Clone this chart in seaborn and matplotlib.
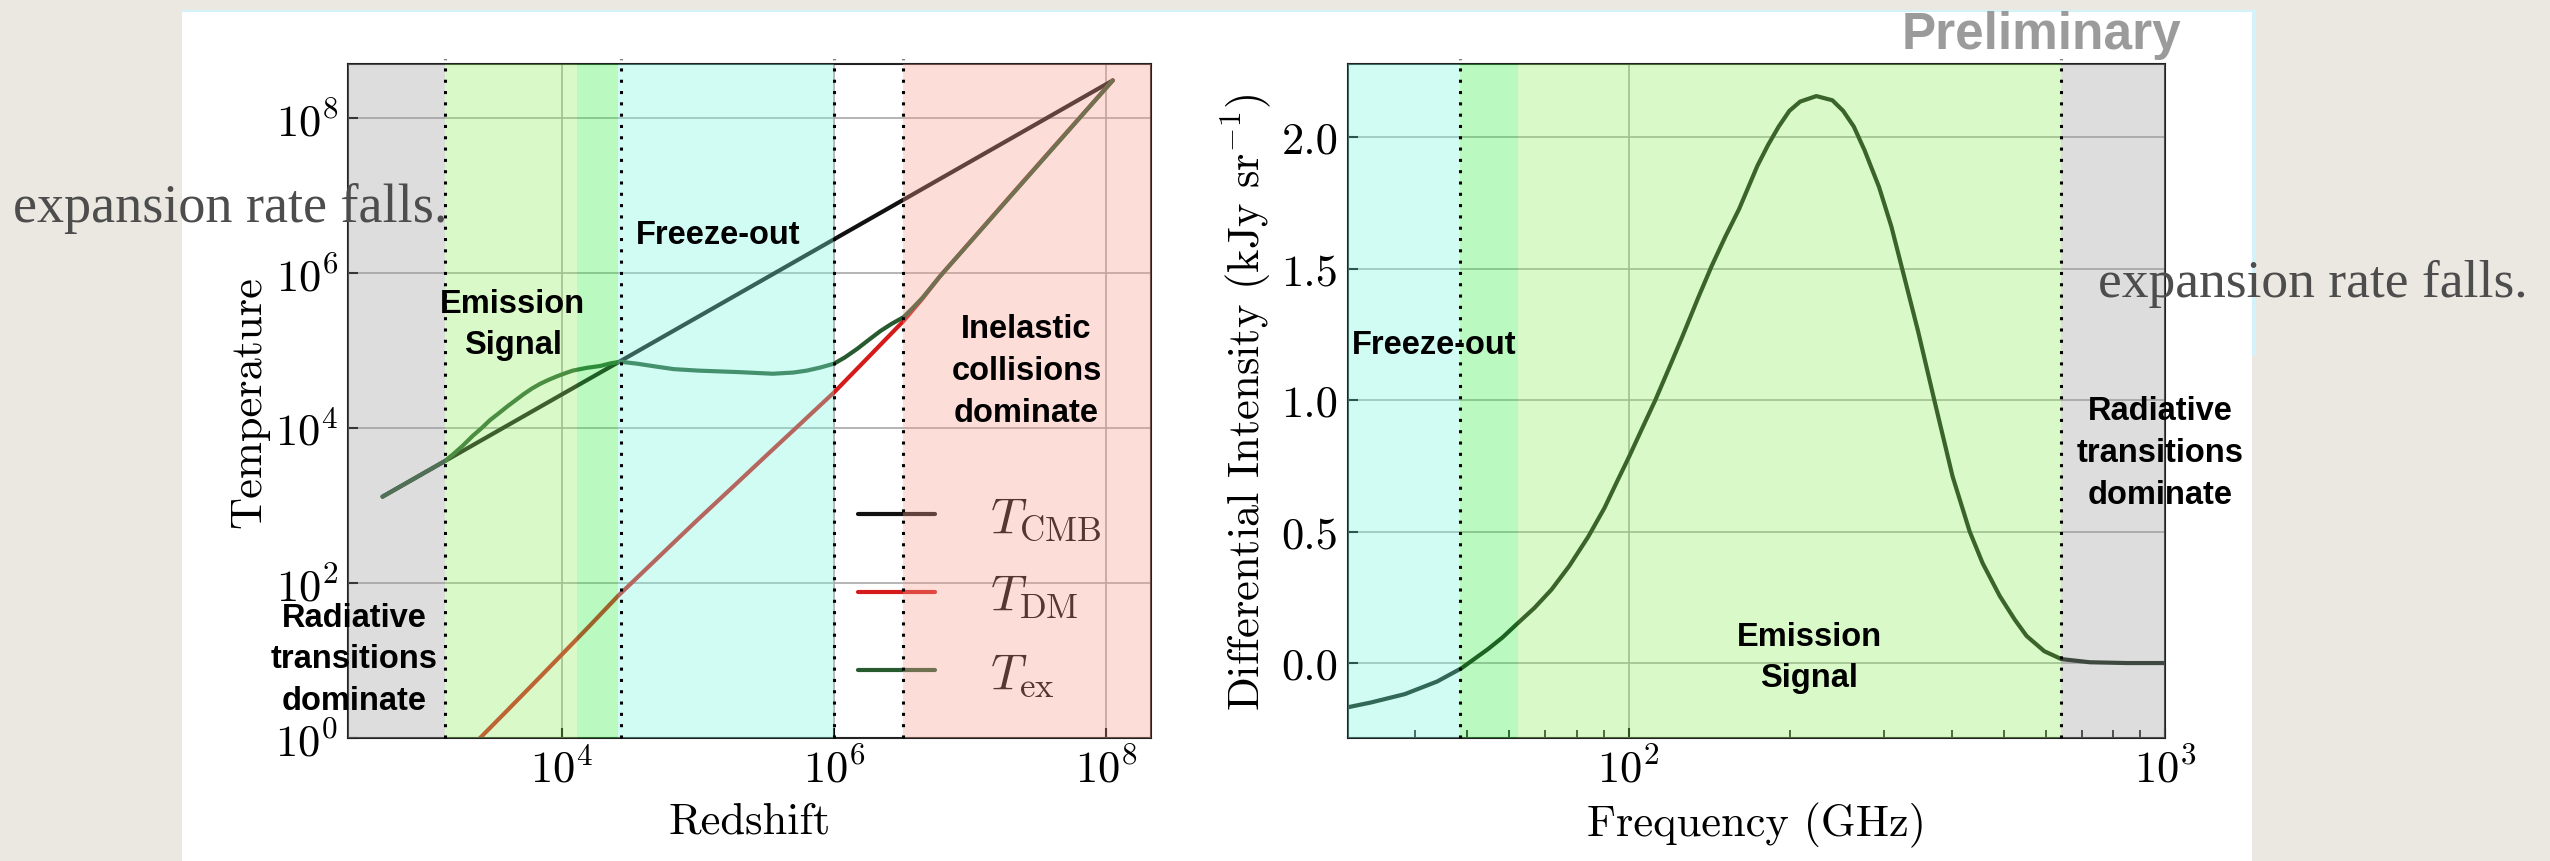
import matplotlib
matplotlib.use("Agg")
import matplotlib.pyplot as plt
import seaborn as sns
from matplotlib.patches import Rectangle
from matplotlib.lines import Line2D
from matplotlib.ticker import NullLocator, LogLocator, NullFormatter

# ---- left panel: temperatures vs redshift ----
z_cmb = [479, 1.12e8]
T_cmb = [1.30e3, 3.05e8]

z_dm = [2.40e3, 3.98e3, 6.92e3, 1.0e4, 1.58e4, 2.57e4, 3.98e4, 6.61e4, 1.0e5, 1.78e5,
        3.16e5, 5.62e5, 1.0e6, 1.78e6, 3.24e6, 4.47e6, 6.03e6, 2.51e7, 1.12e8]
T_dm = [0.933, 2.29, 6.17, 12.0, 27.5, 67.6, 141, 331, 661, 1.70e3,
        4.37e3, 1.12e4, 2.88e4, 8.13e4, 2.40e5, 4.68e5, 9.12e5, 1.58e7, 3.05e8]

z_ex = [479, 1.38e3, 1.58e3, 1.86e3, 2.21e3, 2.57e3, 2.95e3, 3.43e3, 3.98e3, 4.57e3,
        5.25e3, 6.03e3, 6.92e3, 7.94e3, 9.12e3, 1.05e4, 1.20e4, 1.51e4, 1.91e4, 2.29e4,
        2.69e4, 3.55e4, 5.01e4, 6.61e4, 1.0e5, 2.04e5, 3.55e5, 5.01e5, 6.31e5, 7.94e5,
        1.0e6, 1.20e6, 1.48e6, 1.78e6, 2.19e6, 2.63e6, 3.24e6, 3.80e6, 4.47e6, 5.25e6,
        6.03e6, 1.12e8]
T_ex = [1.30e3, 3.76e3, 4.57e3, 5.89e3, 7.94e3, 1.0e4, 1.26e4, 1.55e4, 1.91e4, 2.29e4,
        2.75e4, 3.24e4, 3.72e4, 4.17e4, 4.62e4, 5.07e4, 5.50e4, 5.96e4, 6.31e4, 6.84e4,
        7.16e4, 6.76e4, 6.17e4, 5.75e4, 5.50e4, 5.25e4, 5.01e4, 5.19e4, 5.50e4, 6.03e4,
        6.76e4, 8.13e4, 1.05e5, 1.35e5, 1.78e5, 2.19e5, 2.69e5, 3.55e5, 4.79e5, 6.76e5,
        9.12e5, 3.05e8]

z_span_edges = [1.38e3, 1.29e4, 2.6e4, 1.0e6, 3.2e6]
z_dotted = [1.38e3, 2.7e4, 1.0e6, 3.2e6]

# ---- right panel: differential intensity vs frequency ----
freq = [30, 33.1, 38.3, 44.0, 48.8, 54.7, 58.2, 61.9, 66.8, 71.9, 77.6, 84.1, 90.2,
        95.7, 100, 105.9, 112.2, 118.9, 125.9, 134.9, 142.9, 151.4, 160.7, 173.8, 182.0,
        190.5, 199.5, 208.9, 223.9, 239.9, 251.2, 263.0, 275.4, 293.1, 309.0, 323.6,
        346.7, 371.5, 401.8, 432.5, 457.1, 492.0, 524.8, 552.1, 595.7, 641.2, 724.4,
        851.1, 1000]
intensity = [-0.168, -0.150, -0.118, -0.070, -0.020, 0.053, 0.097, 0.148, 0.21, 0.28,
             0.37, 0.48, 0.59, 0.70, 0.78, 0.89, 1.00, 1.12, 1.24, 1.39, 1.51, 1.62,
             1.726, 1.89, 1.97, 2.04, 2.10, 2.135, 2.156, 2.14, 2.10, 2.04, 1.95, 1.81,
             1.66, 1.50, 1.26, 1.00, 0.71, 0.50, 0.38, 0.255, 0.165, 0.103, 0.045,
             0.015, 0.003, 0.0, 0.0]

f_span_edges = [48.6, 62.2, 641]
f_dotted = [48.6, 641]

sns.set_theme(style="white")
plt.rcParams["font.family"] = ["cmr10", "DejaVu Sans"]
plt.rcParams["mathtext.fontset"] = "cm"
plt.rcParams["axes.formatter.use_mathtext"] = True
plt.rcParams["axes.unicode_minus"] = False
for key in ("text.color", "axes.labelcolor", "xtick.color", "ytick.color"):
    plt.rcParams[key] = "black"

W, H = 2550, 862
fig = plt.figure(figsize=(W / 100, H / 100), dpi=100, facecolor="#ebe8e2")
fig.patches.append(Rectangle((182 / W, 0), 2070 / W, 850 / H, transform=fig.transFigure,
                             facecolor="white", edgecolor="none", zorder=-5))
fig.add_artist(Line2D([182 / W, 2252 / W], [1 - 11.5 / H] * 2, color="#d4f2fa", lw=1.5, zorder=-4))
fig.add_artist(Line2D([2254 / W] * 2, [1 - 12 / H, 1 - 355 / H], color="#d4f2fa", lw=3, zorder=-4))

ax1 = fig.add_axes([348 / W, 123 / H, 803 / W, 674 / H])
ax2 = fig.add_axes([1348 / W, 123 / H, 817 / W, 674 / H])

gray, lgreen, bgreen, cyan, pink = "#9e9e9e", "#92f162", "#3aee4b", "#7cf9e2", "#f99e90"
SPAN_A = 0.35
dots = (0, (1, 2.7))
ann = dict(family="Liberation Sans", weight="bold", fontsize=23.5, ha="center",
           va="center", zorder=10, linespacing=1.45, color="black")

for ax in (ax1, ax2):
    ax.set_facecolor("white")
    ax.grid(True, which="major", color="#a8a8a8", lw=1.2)
    ax.set_axisbelow(True)
    for s in ax.spines.values():
        s.set_color("#222222")
        s.set_linewidth(1.5)
    ax.tick_params(which="major", direction="in", length=7.2, width=1.5,
                   labelsize=32, pad=7, bottom=True, left=True, top=False, right=False)
    ax.tick_params(which="minor", direction="in", length=5.5, width=1.2,
                   bottom=True, left=False, top=False, right=False)

# ---- left panel ----
ax1.set_xscale("log")
ax1.set_yscale("log")
z_lo, z_hi = 267, 2.14e8
ax1.set_xlim(z_lo, z_hi)
ax1.set_ylim(1, 4.97e8)

sns.lineplot(x=z_cmb, y=T_cmb, ax=ax1, color="#111111", lw=3, label=r"$T_{\rm CMB}$", zorder=2)
sns.lineplot(x=z_dm, y=T_dm, ax=ax1, color="#d41a1a", lw=3, label=r"$T_{\rm DM}$", zorder=2)
sns.lineplot(x=z_ex, y=T_ex, ax=ax1, color="#285a30", lw=3, label=r"$T_{\rm ex}$", zorder=2)

edges = [z_lo] + z_span_edges + [z_hi]
for (a, b), c in zip(zip(edges[:-1], edges[1:]), [gray, lgreen, bgreen, cyan, None, pink]):
    if c:
        ax1.axvspan(a, b, color=c, alpha=SPAN_A, lw=0, zorder=3)
for z in z_dotted:
    ax1.axvline(z, color="black", ls=dots, lw=2.2, zorder=4, ymax=1.008, clip_on=False)

leg = ax1.legend(loc="upper left", bbox_to_anchor=(0.635, 0.360), frameon=False,
                 fontsize=36, handlelength=1.55, handletextpad=1.1, labelspacing=0.62,
                 borderaxespad=0, borderpad=0)
leg.set_zorder(2.5)

ax1.set_xticks([1e4, 1e6, 1e8])
ax1.set_yticks([1e0, 1e2, 1e4, 1e6, 1e8])
ax1.xaxis.set_minor_locator(NullLocator())
ax1.yaxis.set_minor_locator(NullLocator())
ax1.set_xlabel("Redshift", fontsize=32, labelpad=8)
ax1.set_ylabel("Temperature", fontsize=32, labelpad=4)

ax1.text(4.35e3, 2.2e5, "Emission\nSignal", **ann)
ax1.text(1.4e5, 3.1e6, "Freeze-out", **ann)
ax1.text(2.6e7, 5.5e4, "Inelastic\ncollisions\ndominate", **ann)
ax1.text(295, 10.5, "Radiative\ntransitions\ndominate", **ann)

# ---- right panel ----
ax2.set_xscale("log")
f_lo, f_hi = 30, 1000
ax2.set_xlim(f_lo, f_hi)
ax2.set_ylim(-0.285, 2.278)
sns.lineplot(x=freq, y=intensity, ax=ax2, color="#0c1a0c", lw=3, zorder=2)

edges = [f_lo] + f_span_edges + [f_hi]
for (a, b), c in zip(zip(edges[:-1], edges[1:]), [cyan, bgreen, lgreen, gray]):
    ax2.axvspan(a, b, color=c, alpha=SPAN_A, lw=0, zorder=3)
for f in f_dotted:
    ax2.axvline(f, color="black", ls=dots, lw=2.2, zorder=4, ymax=1.008, clip_on=False)

ax2.set_xticks([1e2, 1e3])
ax2.xaxis.set_minor_locator(LogLocator(base=10, subs=range(2, 10)))
ax2.xaxis.set_minor_formatter(NullFormatter())
ax2.set_yticks([0.0, 0.5, 1.0, 1.5, 2.0])
ax2.set_yticklabels(["0.0", "0.5", "1.0", "1.5", "2.0"])
ax2.set_xlabel("Frequency (GHz)", fontsize=32, labelpad=8)
ax2.set_ylabel(r"Differential Intensity (kJy sr$^{-1}$)", fontsize=32, labelpad=6)

ax2.text(43.4, 1.213, "Freeze-out", **ann)
ax2.text(217, 0.023, "Emission\nSignal", **ann)
ax2.text(980, 0.80, "Radiative\ntransitions\ndominate", **ann)

# ---- slide overlays ----
fig.text(13 / W, 1 - 222 / H, "expansion rate falls.", family="Liberation Serif",
         fontsize=39, color="#4d4d4d", va="baseline", zorder=20)
fig.text(2098 / W, 1 - 297 / H, "expansion rate falls.", family="Liberation Serif",
         fontsize=38.5, color="#4d4d4d", va="baseline", zorder=20)
fig.text(1902 / W, 1 - 49 / H, "Preliminary", family="Liberation Sans", weight="bold",
         fontsize=37, color="#9b9b9b", va="baseline", zorder=20)

fig.savefig("out.png", dpi=100, facecolor=fig.get_facecolor())
